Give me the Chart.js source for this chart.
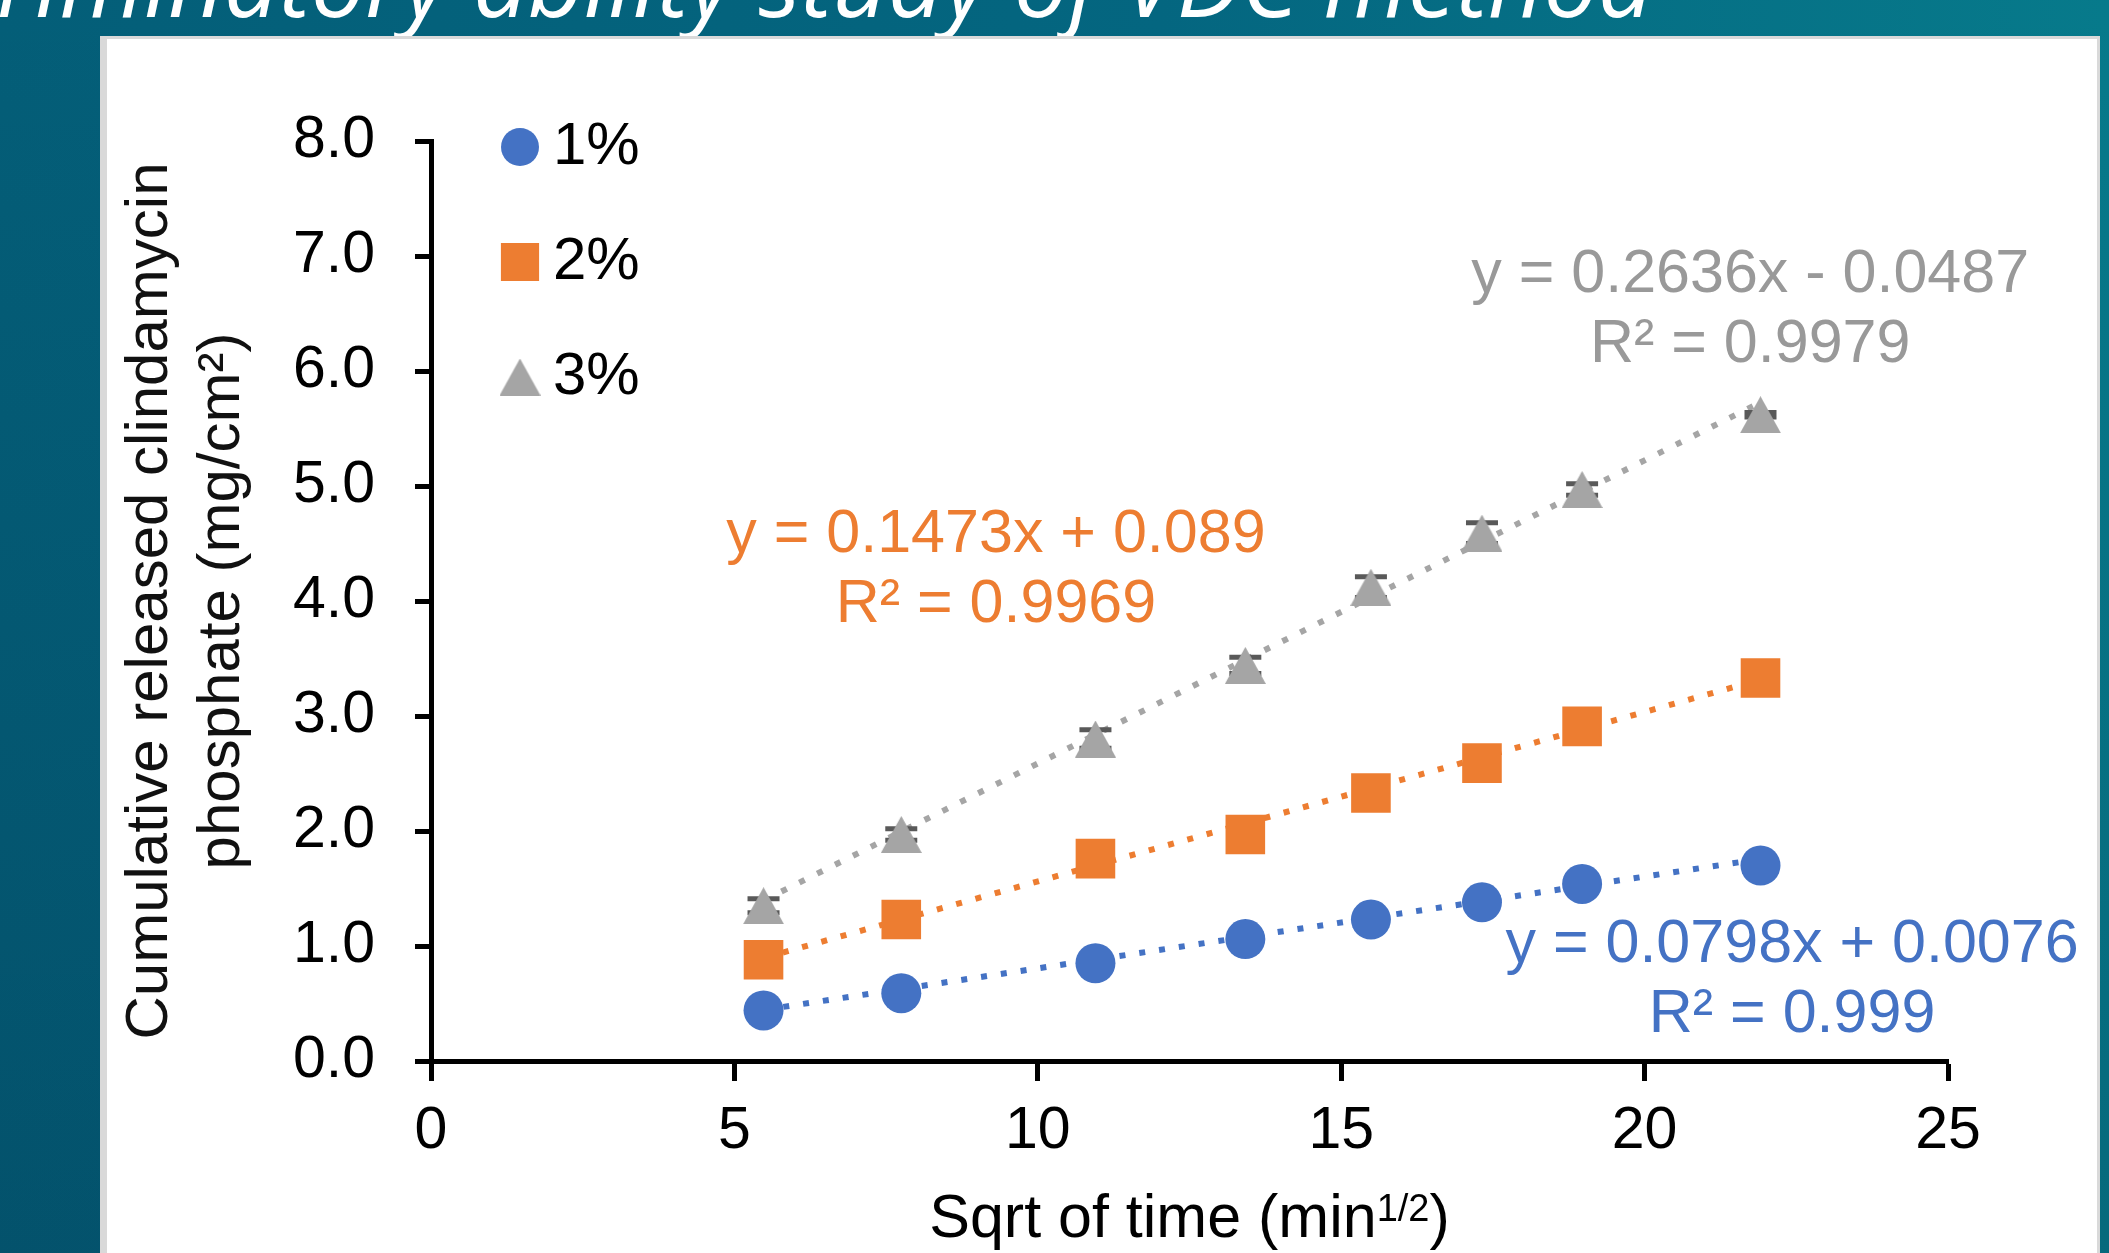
<!DOCTYPE html>
<html>
<head>
<meta charset="utf-8">
<title>Discriminatory ability study of VDC method</title>
<script src="https://cdn.jsdelivr.net/npm/chart.js@4.4.1/dist/chart.umd.min.js"></script>
<style>
  html, body { margin: 0; padding: 0; }
  body {
    width: 2109px;
    height: 1253px;
    overflow: hidden;
    position: relative;
    background: linear-gradient(90deg, #045e78 0%, #046680 55%, #077a8b 100%);
  }
  .shade {
    position: absolute; left: 0; top: 0; right: 0; bottom: 0;
    background: linear-gradient(180deg, rgba(0, 20, 45, 0) 0%, rgba(0, 20, 45, 0.16) 100%);
  }
  .slide-title {
    position: absolute;
    right: 455px;
    top: -55px;
    font: italic 82px/82px "Open Sans", sans-serif;
    color: #fff;
    white-space: nowrap;
  }
  .panel {
    position: absolute;
    left: 100px;
    top: 36px;
    width: 1990px;
    height: 1300px;
    background: #fff;
    border-style: solid;
    border-color: #d9d9d9;
    border-width: 3px 3px 0 7px;
  }
  #release { position: absolute; left: 0; top: 0; }
</style>
</head>
<body>
<div class="shade"></div>
<div class="slide-title" id="slideTitle">Discriminatory <span id="titleTail">ability study of VDC method</span></div>
<div class="panel"></div>
<canvas id="release" width="2109" height="1253"></canvas>
<script>
// Cumulative release vs square root of time, three gel strengths
const sqrtTime = [5.48, 7.75, 10.95, 13.42, 15.49, 17.32, 18.97, 21.91];
const release1 = [0.44, 0.59, 0.85, 1.06, 1.23, 1.38, 1.54, 1.70];
const release2 = [0.88, 1.23, 1.76, 1.97, 2.33, 2.59, 2.91, 3.33];
const release3 = [1.35, 1.97, 2.80, 3.44, 4.12, 4.59, 4.97, 5.62];
const error3 = [0.06, 0.05, 0.08, 0.07, 0.09, 0.09, 0.05, 0.02];

const seriesNames = ['1%', '2%', '3%'];
const slopes = [0.0798, 0.1473, 0.2636];
const intercepts = [0.0076, 0.089, -0.0487];
const rSquared = [0.999, 0.9969, 0.9979];

const xMin = 0, xMax = 25, xStep = 5;
const yMin = 0, yMax = 8, yStep = 1;

// styling
const seriesColors = ['#4472C4', '#ED7D31', '#A5A5A5'];
const labelColors = ['#4472C4', '#ED7D31', '#999999'];
const FONT = '"Liberation Sans", Arial, sans-serif';
// where each equation sits, in axis units (centre of its first line)
const labelAnchors = [
  { x: 22.43, y: 1.01 },
  { x: 9.31, y: 4.57 },
  { x: 21.74, y: 6.83 }
];

// slide heading: size it so the tail of the line spans a fixed width
(function fitTitle() {
  const title = document.getElementById('slideTitle');
  const tail = document.getElementById('titleTail');
  const tailWidth = 1181;
  const baseline = 18;
  let size = 82;
  size = size * tailWidth / tail.getBoundingClientRect().width;
  title.style.fontSize = size + 'px';
  title.style.lineHeight = size + 'px';
  // Open Sans: ascent 1.069em, descent 0.293em
  title.style.top = (baseline - size * ((1 - 1.362) / 2 + 1.069)) + 'px';
})();

function triangleMarker(color, w, h) {
  const c = document.createElement('canvas');
  c.width = w;
  c.height = h;
  const g = c.getContext('2d');
  g.fillStyle = color;
  g.beginPath();
  g.moveTo(w / 2, 0);
  g.lineTo(w, h);
  g.lineTo(0, h);
  g.closePath();
  g.fill();
  return c;
}

const releaseSets = [release1, release2, release3];
const errorSets = [null, null, error3];
const markerStyles = ['circle', 'rect', triangleMarker(seriesColors[2], 41, 37)];
const markerRadius = [20, 28, 20];

const datasets = [];
releaseSets.forEach(function (vals, i) {
  datasets.push({
    type: 'scatter',
    label: seriesNames[i],
    data: sqrtTime.map(function (x, k) { return { x: x, y: vals[k] }; }),
    pointStyle: markerStyles[i],
    pointRadius: markerRadius[i],
    backgroundColor: seriesColors[i],
    borderColor: seriesColors[i],
    borderWidth: 0,
    errors: errorSets[i],
    order: 0
  });
});

// linear trendlines from the fitted equations, over the measured range
releaseSets.forEach(function (vals, i) {
  const x0 = sqrtTime[0];
  const x1 = sqrtTime[sqrtTime.length - 1];
  datasets.push({
    type: 'line',
    label: 'Linear (' + seriesNames[i] + ')',
    data: [
      { x: x0, y: slopes[i] * x0 + intercepts[i] },
      { x: x1, y: slopes[i] * x1 + intercepts[i] }
    ],
    borderColor: seriesColors[i],
    borderWidth: 6,
    borderDash: [6, 14],
    pointRadius: 0,
    fill: false,
    order: 1
  });
});

// error bars sit just behind their markers
const errorBars = {
  id: 'errorBars',
  beforeDatasetDraw: function (chart, args) {
    const ds = chart.data.datasets[args.index];
    if (!ds.errors) return;
    const c = chart.ctx;
    const ys = chart.scales.y;
    c.save();
    c.strokeStyle = '#595959';
    c.lineWidth = 5;
    args.meta.data.forEach(function (pt, k) {
      const v = ds.data[k].y;
      const top = ys.getPixelForValue(v + ds.errors[k]);
      const bot = ys.getPixelForValue(v - ds.errors[k]);
      c.beginPath();
      c.moveTo(pt.x, top); c.lineTo(pt.x, bot);
      c.moveTo(pt.x - 16, top); c.lineTo(pt.x + 16, top);
      c.moveTo(pt.x - 16, bot); c.lineTo(pt.x + 16, bot);
      c.stroke();
    });
    c.restore();
  }
};

function fmtEquation(i) {
  const sign = intercepts[i] < 0 ? ' - ' : ' + ';
  return 'y = ' + slopes[i] + 'x' + sign + Math.abs(intercepts[i]);
}

const trendLabels = {
  id: 'trendLabels',
  afterDatasetsDraw: function (chart) {
    const c = chart.ctx;
    const xs = chart.scales.x, ys = chart.scales.y;
    c.save();
    c.font = '61px ' + FONT;
    c.textAlign = 'center';
    c.textBaseline = 'middle';
    labelAnchors.forEach(function (a, i) {
      const px = xs.getPixelForValue(a.x);
      const py = ys.getPixelForValue(a.y);
      c.fillStyle = labelColors[i];
      c.fillText(fmtEquation(i), px, py);
      c.fillText('R\u00B2 = ' + rSquared[i], px, py + 70);
    });
    c.restore();
  }
};

const seriesLegend = {
  id: 'seriesLegend',
  afterDraw: function (chart) {
    const c = chart.ctx;
    const area = chart.chartArea;
    c.save();
    c.font = '60px ' + FONT;
    c.textBaseline = 'middle';
    c.textAlign = 'left';
    for (let i = 0; i < seriesNames.length; i++) {
      const ds = chart.data.datasets[i];
      const mx = area.left + 89;
      const my = area.top + 6 + i * 115;
      c.fillStyle = ds.backgroundColor;
      Chart.helpers.drawPoint(c, {
        pointStyle: ds.pointStyle,
        radius: ds.pointRadius - 1,
        rotation: 0,
        borderWidth: 0
      }, mx, my);
      c.fillStyle = '#000';
      c.fillText(ds.label, mx + 33, my);
    }
    c.restore();
  }
};

// x title with a raised 1/2
const xTitle = {
  id: 'xTitle',
  afterDraw: function (chart) {
    const c = chart.ctx;
    const area = chart.chartArea;
    const main = '61px ' + FONT;
    const sup = '38px ' + FONT;
    const parts = [
      { t: 'Sqrt of time (min', f: main, dy: 0 },
      { t: '1/2', f: sup, dy: -16 },
      { t: ')', f: main, dy: 0 }
    ];
    c.save();
    let total = 0;
    parts.forEach(function (p) { c.font = p.f; p.w = c.measureText(p.t).width; total += p.w; });
    let x = (area.left + area.right) / 2 - total / 2;
    const base = area.bottom + 176;
    c.fillStyle = '#000';
    c.textBaseline = 'alphabetic';
    c.textAlign = 'left';
    parts.forEach(function (p) {
      c.font = p.f;
      c.fillText(p.t, x, base + p.dy);
      x += p.w;
    });
    c.restore();
  }
};

new Chart(document.getElementById('release').getContext('2d'), {
  type: 'scatter',
  data: { datasets: datasets },
  options: {
    responsive: false,
    animation: false,
    events: [],
    layout: { padding: { left: 0, top: 141, right: 161, bottom: 0 } },
    plugins: {
      legend: { display: false },
      tooltip: { enabled: false }
    },
    scales: {
      x: {
        type: 'linear',
        position: 'bottom',
        min: xMin,
        max: xMax,
        ticks: {
          stepSize: xStep,
          color: '#000',
          font: { family: FONT, size: 59 },
          padding: 15,
          maxRotation: 0,
          autoSkip: false
        },
        grid: {
          drawOnChartArea: false,
          drawTicks: true,
          tickLength: 20,
          tickWidth: 5,
          tickColor: '#000'
        },
        border: { display: true, color: '#000', width: 5 },
        afterFit: function (s) { s.height = 192; }
      },
      y: {
        type: 'linear',
        position: 'left',
        min: yMin,
        max: yMax,
        ticks: {
          stepSize: yStep,
          color: '#000',
          font: { family: FONT, size: 59 },
          padding: 40,
          callback: function (v) { return v.toFixed(1); }
        },
        grid: {
          drawOnChartArea: false,
          drawTicks: true,
          tickLength: 16,
          tickWidth: 5,
          tickColor: '#000'
        },
        border: { display: true, color: '#000', width: 5 },
        title: {
          display: true,
          text: ['Cumulative released clindamycin', 'phosphate (mg/cm\u00B2)'],
          color: '#111',
          font: { family: FONT, size: 60, lineHeight: 1.2 },
          padding: { top: 114, bottom: 0 }
        },
        afterFit: function (s) { s.width = 431; }
      }
    }
  },
  plugins: [errorBars, trendLabels, seriesLegend, xTitle]
});
</script>
</body>
</html>
